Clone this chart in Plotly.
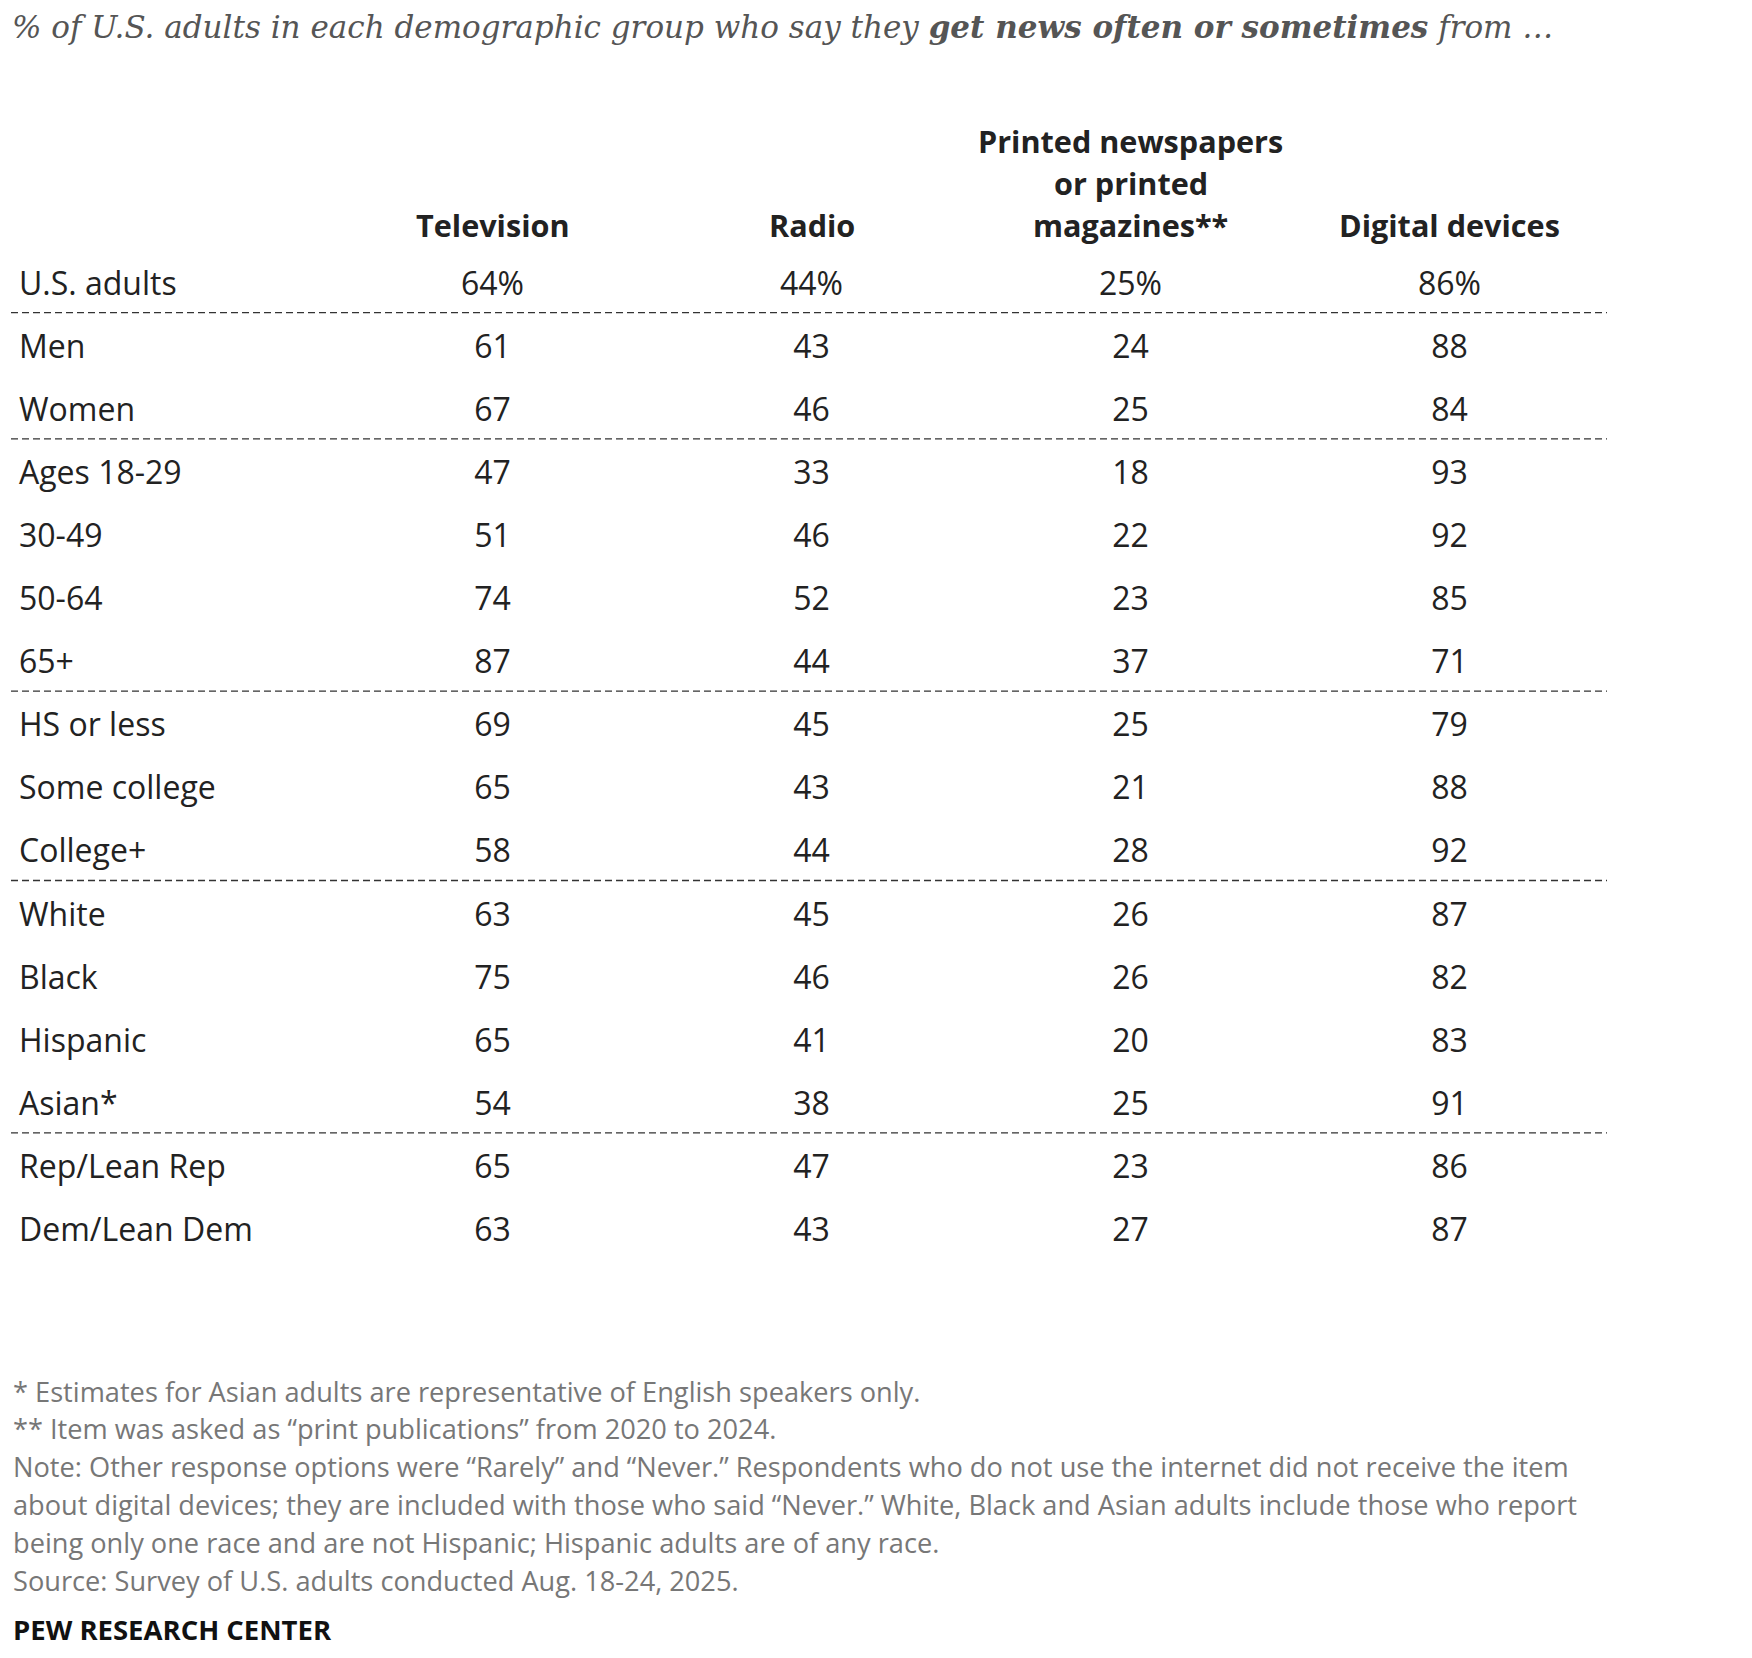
import plotly.graph_objects as go

# table data
row_labels = [
    "U.S. adults", "Men", "Women", "Ages 18-29", "30-49", "50-64", "65+",
    "HS or less", "Some college", "College+", "White", "Black", "Hispanic",
    "Asian*", "Rep/Lean Rep", "Dem/Lean Dem",
]
col_headers = [
    ["Television"],
    ["Radio"],
    ["Printed newspapers", "or printed", "magazines**"],
    ["Digital devices"],
]
television = [64, 61, 67, 47, 51, 74, 87, 69, 65, 58, 63, 75, 65, 54, 65, 63]
radio = [44, 43, 46, 33, 46, 52, 44, 45, 43, 44, 45, 46, 41, 38, 47, 43]
printed = [25, 24, 25, 18, 22, 23, 37, 25, 21, 28, 26, 26, 20, 25, 23, 27]
digital = [86, 88, 84, 93, 92, 85, 71, 79, 88, 92, 87, 82, 83, 91, 86, 87]
# a dashed rule goes under these rows
group_ends = [0, 2, 6, 9, 13]

title = ("<i>% of U.S. adults in each demographic group who say they "
         "<b>get news often or sometimes</b> from …</i>")
notes = [
    "* Estimates for Asian adults are representative of English speakers only.",
    "** Item was asked as “print publications” from 2020 to 2024.",
    "Note: Other response options were “Rarely” and “Never.” Respondents who do not use the internet did not receive the item",
    "about digital devices; they are included with those who said “Never.” White, Black and Asian adults include those who report",
    "being only one race and are not Hispanic; Hispanic adults are of any race.",
    "Source: Survey of U.S. adults conducted Aug. 18-24, 2025.",
]

# page is 1752x1658 but the html body has an 8px margin
PAGE_W, PAGE_H = 1752, 1658
OFF = 8
W, H = PAGE_W - 2 * OFF, PAGE_H - 2 * OFF
SANS = "Open Sans"
INK = "#222222"

# pixel layout of the grid on the page
col1_px, col_step = 492.5 - OFF, 319.0
row0_px, row_step = 286.5 - OFF, 63.1
x_range = [1 - col1_px / col_step, 1 + (W - col1_px) / col_step]
y_range = [(H - row0_px) / row_step, -row0_px / row_step]


def px_to_row(py):
    return (py - OFF - row0_px) / row_step


def px_to_col(px):
    return 1 + (px - OFF - col1_px) / col_step


def paper_x(px):
    return (px - OFF) / W


def paper_y(py):
    return 1 - (py - OFF) / H


rows = list(range(len(row_labels)))
fig = go.Figure()

# row labels
fig.add_trace(go.Scatter(
    x=[px_to_col(19)] * len(rows), y=rows, mode="text",
    text=row_labels, textposition="middle right",
    textfont=dict(family=SANS, size=32, color=INK),
    hoverinfo="skip", showlegend=False,
))

# value columns
for i, vals in enumerate([television, radio, printed, digital]):
    txt = [f"{v}%" if r == 0 else str(v) for r, v in enumerate(vals)]
    fig.add_trace(go.Scatter(
        x=[i + 1] * len(vals), y=rows, mode="text", text=txt,
        textposition="middle center",
        textfont=dict(family=SANS, size=32, color=INK),
        hoverinfo="skip", showlegend=False,
    ))

# column headers (bottom-aligned)
header_px = [141, 183, 225]
for i, lines in enumerate(col_headers):
    for j, line in enumerate(lines):
        ypx = header_px[len(header_px) - len(lines) + j]
        fig.add_annotation(
            x=i + 1, y=px_to_row(ypx), text=f"<b>{line}</b>", showarrow=False,
            xanchor="center", yanchor="middle",
            font=dict(family=SANS, size=30.6, color=INK),
        )

# dashed separators
for g in group_ends:
    sep_y = g + (312.6 - 286.5) / row_step
    fig.add_shape(
        type="line", xref="x", yref="y",
        x0=px_to_col(11), x1=px_to_col(1607), y0=sep_y, y1=sep_y,
        line=dict(color="#333333", width=1.3, dash="7px,4px"),
    )

# title
fig.add_annotation(
    x=paper_x(10), y=paper_y(27), xref="paper", yref="paper", text=title,
    showarrow=False, xanchor="left", yanchor="middle",
    font=dict(family="DejaVu Serif", size=31, color="#555555"),
)

# notes
for k, line in enumerate(notes):
    fig.add_annotation(
        x=paper_x(11), y=paper_y(1391 + 37.8 * k), xref="paper", yref="paper",
        text=line, showarrow=False, xanchor="left", yanchor="middle",
        font=dict(family=SANS, size=27.2, color="#777777"),
    )
fig.add_annotation(
    x=paper_x(11), y=paper_y(1629), xref="paper", yref="paper",
    text="<b>PEW RESEARCH CENTER</b>", showarrow=False,
    xanchor="left", yanchor="middle",
    font=dict(family=SANS, size=27.5, color="#111111"),
)

fig.update_xaxes(range=x_range, visible=False, fixedrange=True)
fig.update_yaxes(range=y_range, visible=False, fixedrange=True)
fig.update_layout(
    width=W, height=H,
    margin=dict(l=0, r=0, t=0, b=0),
    paper_bgcolor="white", plot_bgcolor="white",
)

fig.write_html("out.html")
